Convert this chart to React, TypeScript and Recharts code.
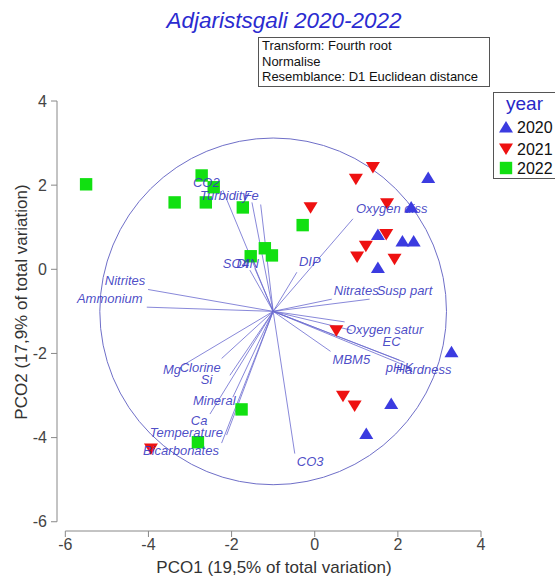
import { ScatterChart, Scatter, XAxis, YAxis, ReferenceLine, ReferenceDot } from "recharts";

// sample scores on PCO1 / PCO2
const year2020 = [
  { x: 2.73, y: 2.18 }, { x: 2.32, y: 1.48 }, { x: 1.52, y: 0.83 },
  { x: 2.11, y: 0.67 }, { x: 2.38, y: 0.67 }, { x: 1.52, y: 0.04 },
  { x: 3.29, y: -1.96 }, { x: 1.84, y: -3.19 }, { x: 1.24, y: -3.9 },
];

const year2021 = [
  { x: 1.4, y: 2.42 }, { x: 0.99, y: 2.14 }, { x: -0.1, y: 1.46 },
  { x: 1.74, y: 1.56 }, { x: 1.72, y: 0.83 }, { x: 1.23, y: 0.55 },
  { x: 1.02, y: 0.29 }, { x: 1.92, y: 0.24 }, { x: 0.52, y: -1.46 },
  { x: 0.68, y: -3.02 }, { x: 0.96, y: -3.25 }, { x: -3.94, y: -4.27 },
];

const year2022 = [
  { x: -5.5, y: 2.02 }, { x: -3.37, y: 1.59 }, { x: -2.72, y: 2.23 },
  { x: -2.43, y: 1.95 }, { x: -2.62, y: 1.59 }, { x: -1.73, y: 1.47 },
  { x: -1.54, y: 0.31 }, { x: -1.2, y: 0.5 }, { x: -1.03, y: 0.33 },
  { x: -0.29, y: 1.05 }, { x: -1.76, y: -3.33 }, { x: -2.81, y: -4.11 },
];

// vector overlay: tip of each variable's vector
const vectors = [
  { name: "CO2", x: -2.21, y: 1.88 },
  { name: "Turbidity", x: -1.51, y: 1.59 },
  { name: "Fe", x: -1.3, y: 1.54 },
  { name: "SO4", x: -1.56, y: -0.02 },
  { name: "DIN", x: -1.44, y: 0.02 },
  { name: "DIP", x: -0.43, y: -0.07 },
  { name: "Oxygen diss", x: 0.92, y: 1.2 },
  { name: "Nitrates", x: 0.41, y: -0.71 },
  { name: "Susp part", x: 1.32, y: -0.71 },
  { name: "Oxygen satur", x: 0.72, y: -1.25 },
  { name: "EC", x: 0.89, y: -1.45 },
  { name: "MBM5", x: 0.38, y: -1.95 },
  { name: "pH", x: 2.04, y: -2.16 },
  { name: "K", x: 2.16, y: -2.21 },
  { name: "Hardness", x: 2.28, y: -2.33 },
  { name: "CO3", x: -0.48, y: -4.38 },
  { name: "Nitrites", x: -4.01, y: -0.48 },
  { name: "Ammonium", x: -4.04, y: -0.9 },
  { name: "Mg", x: -3.17, y: -2.28 },
  { name: "Clorine", x: -2.24, y: -2.12 },
  { name: "Si", x: -2.04, y: -2.52 },
  { name: "Mineral", x: -1.97, y: -3.04 },
  { name: "Ca", x: -2.52, y: -3.44 },
  { name: "Temperature", x: -2.12, y: -3.94 },
  { name: "Bicarbonates", x: -2.24, y: -4.13 },
];

// where each vector label starts (left edge, middle of text)
const labelAt = [
  { name: "CO2", x: -2.93, y: 2.07 },
  { name: "Turbidity", x: -2.76, y: 1.76 },
  { name: "Fe", x: -1.71, y: 1.76 },
  { name: "SO4", x: -2.21, y: 0.14 },
  { name: "DIN", x: -1.88, y: 0.14 },
  { name: "DIP", x: -0.38, y: 0.19 },
  { name: "Oxygen diss", x: 0.99, y: 1.45 },
  { name: "Nitrates", x: 0.46, y: -0.5 },
  { name: "Susp part", x: 1.49, y: -0.5 },
  { name: "Oxygen satur", x: 0.75, y: -1.43 },
  { name: "EC", x: 1.63, y: -1.71 },
  { name: "MBM5", x: 0.43, y: -2.14 },
  { name: "pH", x: 1.71, y: -2.33 },
  { name: "K", x: 2.16, y: -2.33 },
  { name: "Hardness", x: 1.95, y: -2.38 },
  { name: "CO3", x: -0.43, y: -4.56 },
  { name: "Nitrites", x: -5.05, y: -0.26 },
  { name: "Ammonium", x: -5.72, y: -0.69 },
  { name: "Mg", x: -3.65, y: -2.38 },
  { name: "Clorine", x: -3.25, y: -2.33 },
  { name: "Si", x: -2.74, y: -2.61 },
  { name: "Mineral", x: -2.93, y: -3.11 },
  { name: "Ca", x: -2.98, y: -3.59 },
  { name: "Temperature", x: -3.97, y: -3.87 },
  { name: "Bicarbonates", x: -4.13, y: -4.3 },
];

const ticks = [-6, -4, -2, 0, 2, 4];
const origin = { x: -1, y: -1 };
const circleRadius = 4.17;

const W = 555;
const H = 579;
const margin = { top: 101, right: 74, bottom: 18, left: 17 };
const yAxisWidth = 40;
const xDomain: [number, number] = [-6.2, 4];
const yDomain: [number, number] = [-6.22, 4];
const pxPerUnit = (W - margin.left - yAxisWidth - margin.right) / (xDomain[1] - xDomain[0]);

const FONT = "'Liberation Sans', Arial, sans-serif";
const BLUE = "#3b3be0";
const RED = "#ee1111";
const GREEN = "#11e011";
const LABEL = "#3737c0";

const TriUp = (p: any) => (
  <polygon
    points={`${p.cx},${p.cy - 6} ${p.cx + 7},${p.cy + 5.5} ${p.cx - 7},${p.cy + 5.5}`}
    fill={BLUE}
  />
);
const TriDown = (p: any) => (
  <polygon
    points={`${p.cx - 7},${p.cy - 5.5} ${p.cx + 7},${p.cy - 5.5} ${p.cx},${p.cy + 6}`}
    fill={RED}
  />
);
const Square = (p: any) => (
  <rect x={p.cx - 6.2} y={p.cy - 6.2} width={12.4} height={12.4} fill={GREEN} />
);
const VecLabel = (p: any) => (
  <text
    x={p.cx}
    y={p.cy}
    dy="0.35em"
    fontSize={13}
    fontStyle="italic"
    fontFamily={FONT}
    fill={LABEL}
    fillOpacity={0.9}
  >
    {p.payload.name}
  </text>
);

export default function App() {
  return (
    <div style={{ position: "absolute", left: 0, top: 0, width: W, height: H, fontFamily: FONT }}>
      <ScatterChart width={W} height={H} margin={margin}>
        <XAxis
          type="number"
          dataKey="x"
          domain={xDomain}
          allowDataOverflow
          ticks={ticks}
          height={30}
          axisLine={false}
          tickLine={{ stroke: "#888" }}
          tick={{ fontSize: 16, fill: "#444", fontFamily: FONT }}
        />
        <YAxis
          type="number"
          dataKey="y"
          domain={yDomain}
          allowDataOverflow
          ticks={ticks}
          width={yAxisWidth}
          axisLine={false}
          tickLine={{ stroke: "#888" }}
          tickMargin={4}
          tick={{ fontSize: 16, fill: "#444", fontFamily: FONT }}
        />
        <ReferenceLine
          segment={[{ x: -6, y: yDomain[0] }, { x: 4, y: yDomain[0] }]}
          stroke="#888"
          ifOverflow="visible"
        />
        <ReferenceLine
          segment={[{ x: xDomain[0], y: -6 }, { x: xDomain[0], y: 4 }]}
          stroke="#888"
          ifOverflow="visible"
        />
        <ReferenceDot
          x={origin.x}
          y={origin.y}
          r={circleRadius * pxPerUnit}
          fill="none"
          stroke="#6f6fc8"
          strokeWidth={1}
          ifOverflow="visible"
        />
        {vectors.map((v) => (
          <ReferenceLine
            key={v.name}
            segment={[origin, { x: v.x, y: v.y }]}
            stroke="#6a6ad0"
            strokeOpacity={0.8}
            strokeWidth={1}
          />
        ))}
        <Scatter data={year2022} shape={Square} isAnimationActive={false} />
        <Scatter data={year2021} shape={TriDown} isAnimationActive={false} />
        <Scatter data={labelAt} shape={VecLabel} isAnimationActive={false} />
        <Scatter data={year2020} shape={TriUp} isAnimationActive={false} />
      </ScatterChart>

      <svg
        width={W}
        height={H}
        style={{ position: "absolute", left: 0, top: 0, pointerEvents: "none" }}
        fontFamily={FONT}
      >
        <text x={284} y={28} textAnchor="middle" fontSize={22.5} fontStyle="italic" fill="#2b2bd0">
          Adjaristsgali 2020-2022
        </text>

        <rect x={258.5} y={37.5} width={231} height={49} fill="#fff" stroke="#555" />
        <text x={262} y={50} fontSize={13} fill="#111">Transform: Fourth root</text>
        <text x={262} y={66} fontSize={13} fill="#111">Normalise</text>
        <text x={262} y={81} fontSize={13} fill="#111">Resemblance: D1 Euclidean distance</text>

        <rect x={493.5} y={92.5} width={70} height={86} fill="#fff" stroke="#555" />
        <text x={506} y={110} fontSize={19} fill="#2727c8">year</text>
        <TriUp cx={506} cy={127} />
        <text x={517} y={133} fontSize={16} fill="#111">2020</text>
        <TriDown cx={506} cy={149} />
        <text x={517} y={155} fontSize={16} fill="#111">2021</text>
        <Square cx={506} cy={168} />
        <text x={517} y={174} fontSize={16} fill="#111">2022</text>

        <text x={274} y={573} textAnchor="middle" fontSize={17} fill="#333">
          PCO1 (19,5% of total variation)
        </text>
        <text
          transform="translate(27,302) rotate(-90)"
          textAnchor="middle"
          fontSize={17}
          fill="#333"
        >
          PCO2 (17,9% of total variation)
        </text>
      </svg>
    </div>
  );
}
